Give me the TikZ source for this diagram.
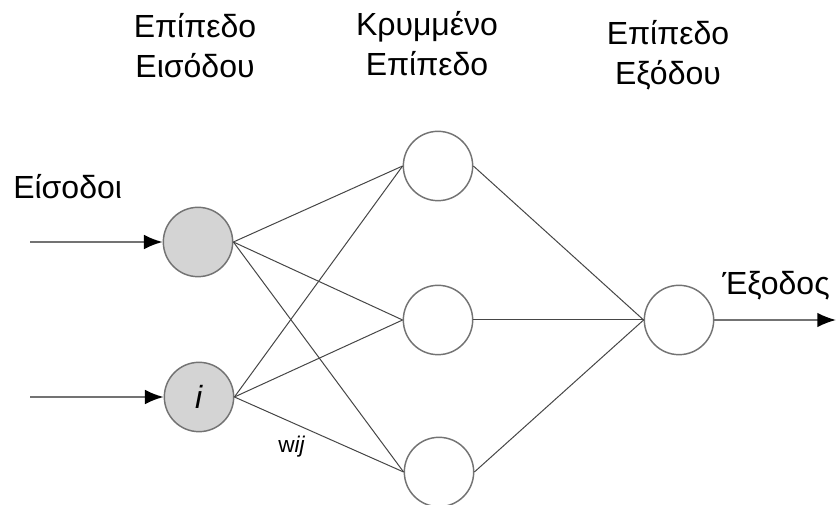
\documentclass[tikz,border=0pt]{standalone}
\usepackage{fontspec}
\setmainfont{Liberation Sans}
\usepackage{tikz}
\usetikzlibrary{arrows.meta}

\definecolor{nodegray}{RGB}{212,212,212}
\definecolor{rimgray}{RGB}{115,115,115}
\definecolor{wiregray}{RGB}{70,70,70}

\tikzset{
	neuron/.style={circle,draw=rimgray,line width=1.1pt,inner sep=0pt,minimum size=52pt},
	inneuron/.style={neuron,fill=nodegray},
	wire/.style={draw=wiregray,line width=0.75pt},
	signal/.style={draw=rimgray,line width=1.4pt,-{Latex[length=14pt,width=11pt,color=black]}},
	layertitle/.style={align=center,inner sep=0pt,anchor=north,font=\fontsize{24}{30}\selectfont},
	caption/.style={inner sep=0pt,anchor=base west,font=\fontsize{24}{30}\selectfont}
}

\begin{document}
\begin{tikzpicture}[x=0.75pt,y=-0.75pt]
	\useasboundingbox (0,0) rectangle (836,505);

	\node[inneuron](in1) at (198,242) {};
	\node[inneuron](in2) at (199,397) {\fontsize{24}{30}\selectfont\textit{i}};
	\node[neuron](h1) at (438,166) {};
	\node[neuron](h2) at (438,320) {};
	\node[neuron](h3) at (439,472) {};
	\node[neuron](out) at (679,320) {};

	\coordinate (src1) at (30,242);
	\coordinate (src2) at (30,397);
	\coordinate (sink) at (836,320);

	\node[layertitle](tin) at (195,13) {Επίπεδο\\Εισόδου};
	\node[layertitle](thid) at (427,11) {Κρυμμένο\\Επίπεδο};
	\node[layertitle](tout) at (668,20) {Επίπεδο\\Εξόδου};
	\node[caption](lin) at (13,199) {Είσοδοι};
	\node[caption](lout) at (722,295) {Έξοδος};
	\node[inner sep=0pt,anchor=base west,font=\fontsize{17}{20}\selectfont](wij) at (278,453) {w\textit{ij}};

	\foreach \i in {in1,in2}
		\foreach \h in {h1,h2,h3}
			\draw[wire] (\i.east) -- (\h.west);
	\foreach \h in {h1,h2,h3}
		\draw[wire] (\h.east) -- (out.west);

	\draw[signal] (src1) -- (in1);
	\draw[signal] (src2) -- (in2);
	\draw[signal] (out) -- (sink);
\end{tikzpicture}
\end{document}
